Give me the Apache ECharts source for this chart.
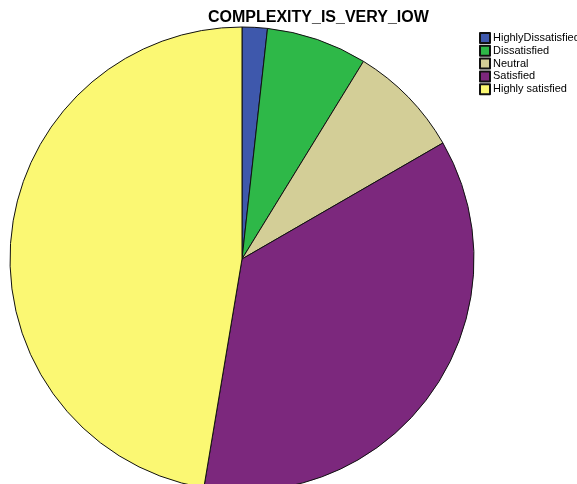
<!DOCTYPE html>
<html>
<head>
<meta charset="utf-8">
<script src="https://cdn.jsdelivr.net/npm/echarts@6/dist/echarts.min.js"></script>
<style>html,body{margin:0;padding:0;background:#fff}#c{width:577px;height:484px}</style>
</head>
<body>
<div id="c"></div>
<script>
const categories = ["HighlyDissatisfied", "Dissatisfied", "Neutral", "Satisfied", "Highly satisfied"];
const counts = [2, 8, 9, 41, 54];
const colors = ["#3e58ac", "#2eb848", "#d3ce97", "#7c287d", "#fbf873"];

const chart = echarts.init(document.getElementById('c'), null, {renderer: 'canvas'});
chart.setOption({
  animation: false,
  backgroundColor: '#fff',
  title: {
    text: 'COMPLEXITY_IS_VERY_IOW',
    left: 203, top: 5,
    textStyle: {fontFamily: 'Liberation Sans, Arial, sans-serif', fontSize: 16, fontWeight: 'bold', color: '#000'}
  },
  legend: {
    orient: 'vertical',
    left: 479, top: 32,
    itemWidth: 10, itemHeight: 10, itemGap: 0.8,
    icon: 'rect',
    data: categories,
    textStyle: {fontFamily: 'Liberation Sans, Arial, sans-serif', fontSize: 11, lineHeight: 12, color: '#000', padding: [0,0,0,-2]},
    padding: 0
  },
  series: [{
    type: 'pie',
    center: [242, 259],
    radius: [0, 232],
    startAngle: 90,
    clockwise: true,
    label: {show: false},
    labelLine: {show: false},
    emphasis: {disabled: true},
    itemStyle: {borderColor: '#111', borderWidth: 1},
    data: categories.map((c, i) => ({name: c, value: counts[i], itemStyle: {color: colors[i]}}))
  }]
});
</script>
</body>
</html>
